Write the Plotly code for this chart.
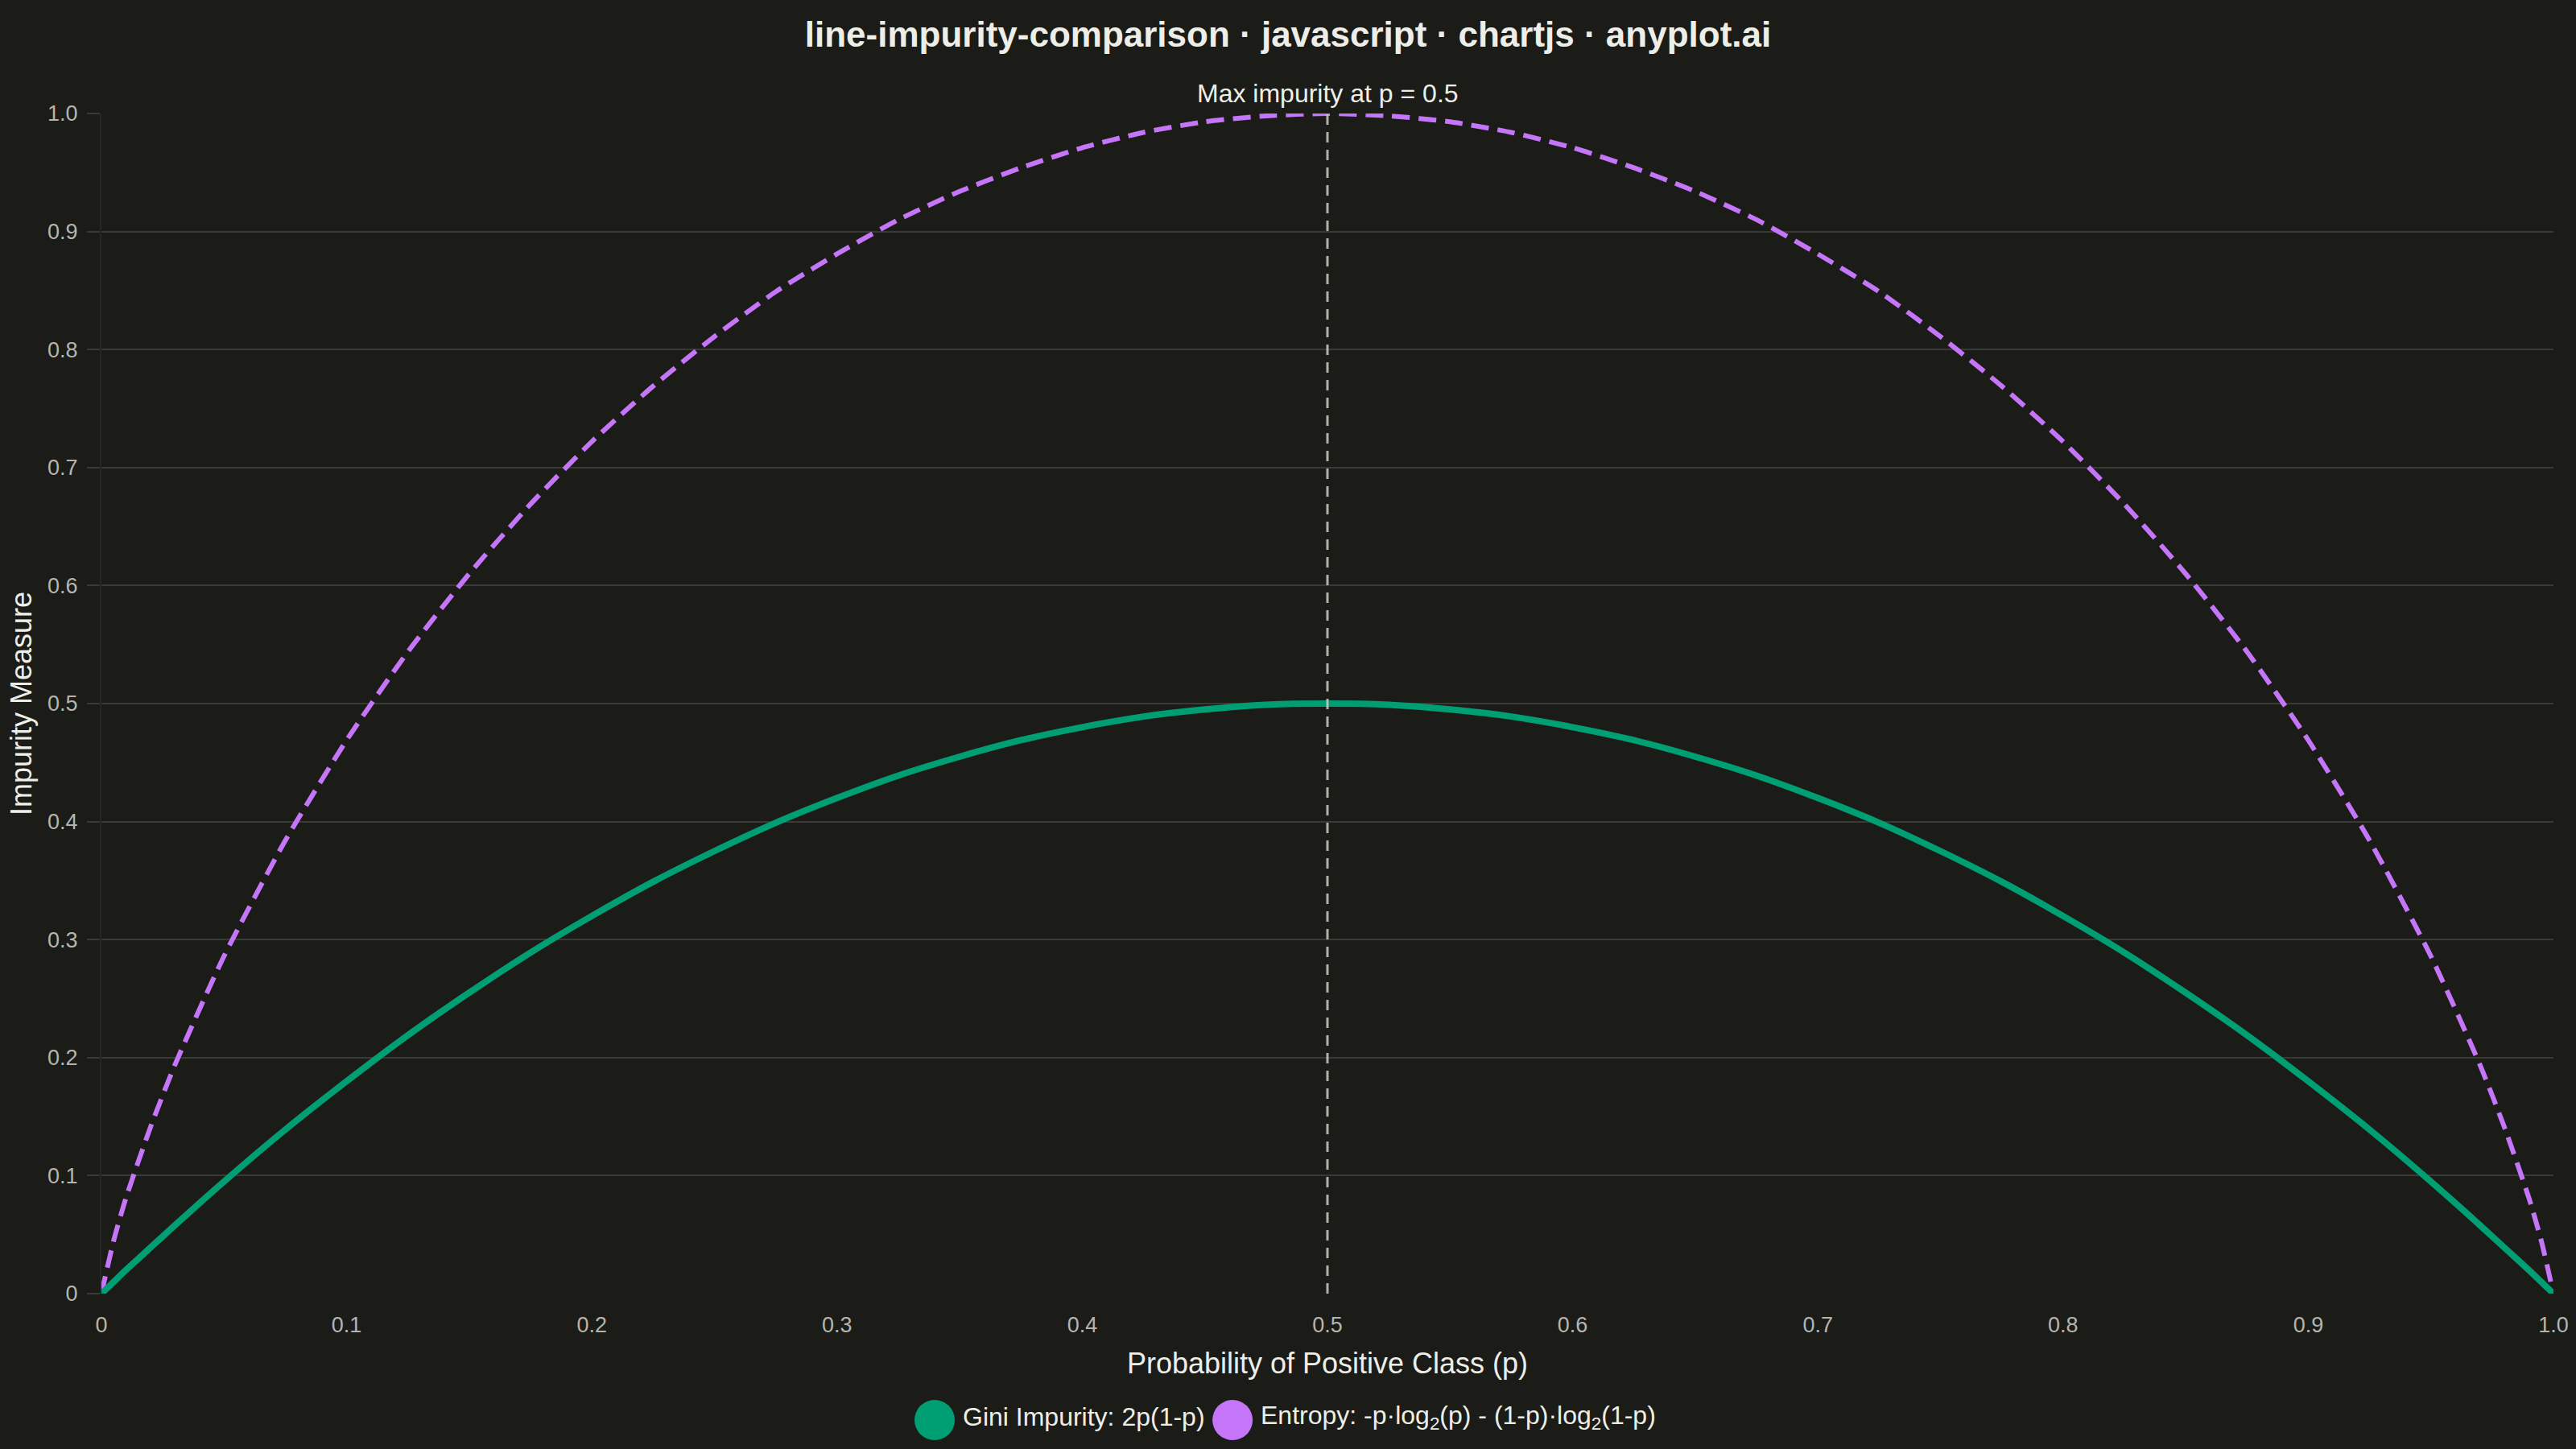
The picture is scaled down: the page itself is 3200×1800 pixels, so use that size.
import plotly.graph_objects as go

# probability of positive class (x) and impurity values
p_values = [0, 0.005, 0.01, 0.02, 0.03, 0.05, 0.075, 0.1, 0.125, 0.15, 0.175, 0.2,
            0.225, 0.25, 0.275, 0.3, 0.325, 0.35, 0.375, 0.4, 0.425, 0.45, 0.475,
            0.5,
            0.525, 0.55, 0.575, 0.6, 0.625, 0.65, 0.675, 0.7, 0.725, 0.75, 0.775,
            0.8, 0.825, 0.85, 0.875, 0.9, 0.925, 0.95, 0.97, 0.98, 0.99, 0.995, 1.0]

gini = [0, 0.010, 0.020, 0.039, 0.058, 0.095, 0.139, 0.180, 0.219, 0.255, 0.289, 0.320,
        0.349, 0.375, 0.399, 0.420, 0.439, 0.455, 0.469, 0.480, 0.489, 0.495, 0.499,
        0.500,
        0.499, 0.495, 0.489, 0.480, 0.469, 0.455, 0.439, 0.420, 0.399, 0.375, 0.349,
        0.320, 0.289, 0.255, 0.219, 0.180, 0.139, 0.095, 0.058, 0.039, 0.020, 0.010, 0]

entropy = [0, 0.045, 0.081, 0.141, 0.194, 0.286, 0.384, 0.469, 0.544, 0.610, 0.669, 0.722,
           0.769, 0.811, 0.849, 0.881, 0.910, 0.934, 0.954, 0.971, 0.984, 0.993, 0.998,
           1.000,
           0.998, 0.993, 0.984, 0.971, 0.954, 0.934, 0.910, 0.881, 0.849, 0.811, 0.769,
           0.722, 0.669, 0.610, 0.544, 0.469, 0.384, 0.286, 0.194, 0.141, 0.081, 0.045, 0]

max_p = 0.5

x_ticks = [0, 0.1, 0.2, 0.3, 0.4, 0.5, 0.6, 0.7, 0.8, 0.9, 1.0]
x_labels = ["0", "0.1", "0.2", "0.3", "0.4", "0.5", "0.6", "0.7", "0.8", "0.9", "1.0"]
y_ticks = [0, 0.1, 0.2, 0.3, 0.4, 0.5, 0.6, 0.7, 0.8, 0.9, 1.0]
y_labels = ["0", "0.1", "0.2", "0.3", "0.4", "0.5", "0.6", "0.7", "0.8", "0.9", "1.0"]

gini_name = "Gini Impurity: 2p(1-p)"
entropy_name = "Entropy: -p·log<sub>2</sub>(p) - (1-p)·log<sub>2</sub>(1-p)"

BG = "#1b1b18"
GRID = "#393935"
GREEN = "#009E73"
PURPLE = "#C475F8"
FONT = "Liberation Sans, Arial, sans-serif"

fig = go.Figure()

fig.add_trace(go.Scatter(
    x=p_values, y=entropy, mode="lines", name="Entropy",
    line=dict(color=PURPLE, width=6, dash="22px,11px", shape="spline", smoothing=0.6),
    showlegend=False,
))
fig.add_trace(go.Scatter(
    x=p_values, y=gini, mode="lines", name="Gini",
    line=dict(color=GREEN, width=8, shape="spline", smoothing=0.6),
    showlegend=False,
))

# dashed reference line at maximum impurity
fig.add_shape(
    type="line", xref="x", yref="y", x0=max_p, x1=max_p, y0=0, y1=1,
    line=dict(color="rgba(205,205,198,0.85)", width=3, dash="13px,9px"),
    layer="above",
)
fig.add_annotation(
    x=max_p, y=1, xref="x", yref="y", text="Max impurity at p = 0.5",
    showarrow=False, yanchor="bottom", yshift=5,
    font=dict(family=FONT, size=32, color="#eeeee8"),
)

# custom legend with big round swatches
legend_items = [(GREEN, gini_name, 0.3398, 0.3506), (PURPLE, entropy_name, 0.4613, 0.4721)]
for color, label, cx, tx in legend_items:
    fig.add_shape(
        type="circle", xref="paper", yref="paper",
        xsizemode="pixel", ysizemode="pixel",
        xanchor=cx, yanchor=-0.1071,
        x0=-25, x1=25, y0=-25, y1=25,
        fillcolor=color, line=dict(width=0),
    )
    fig.add_annotation(
        x=tx, y=-0.1044, xref="paper", yref="paper", text=label,
        showarrow=False, xanchor="left", yanchor="middle",
        font=dict(family=FONT, size=32, color="#eeeee8"),
    )

fig.update_xaxes(
    range=[0, 1], tickvals=x_ticks, ticktext=x_labels,
    showgrid=False, zeroline=False, showline=False,
    ticks="", ticklabelstandoff=20,
    tickfont=dict(family=FONT, size=27, color="#b5b5ae"),
    title=dict(text="Probability of Positive Class (p)", standoff=20,
               font=dict(family=FONT, size=36, color="#eeeee8")),
    automargin=False,
)
fig.update_yaxes(
    range=[0, 1], tickvals=y_ticks, ticktext=y_labels,
    showgrid=True, gridcolor=GRID, gridwidth=2, zeroline=False,
    showline=True, linecolor="#262623", linewidth=2,
    ticks="outside", ticklen=16, tickcolor=GRID, tickwidth=2, ticklabelstandoff=6,
    tickfont=dict(family=FONT, size=27, color="#b5b5ae"),
    title=dict(text="Impurity Measure", standoff=8,
               font=dict(family=FONT, size=36, color="#eeeee8")),
    automargin=False,
)

fig.update_layout(
    width=3200, height=1800,
    paper_bgcolor=BG, plot_bgcolor=BG,
    margin=dict(l=126, r=28, t=141, b=193),
    title=dict(
        text="<b>line-impurity-comparison · javascript · chartjs · anyplot.ai</b>",
        x=0.5, xref="container", xanchor="center",
        y=1 - 43 / 1800, yref="container", yanchor="middle",
        font=dict(family=FONT, size=44, color="#eeeee8"),
    ),
    showlegend=False,
)

fig.write_html(
    "out.html",
    config={"displayModeBar": False},
    post_script="document.body.style.margin='0';document.body.style.background='#1b1b18';",
)
